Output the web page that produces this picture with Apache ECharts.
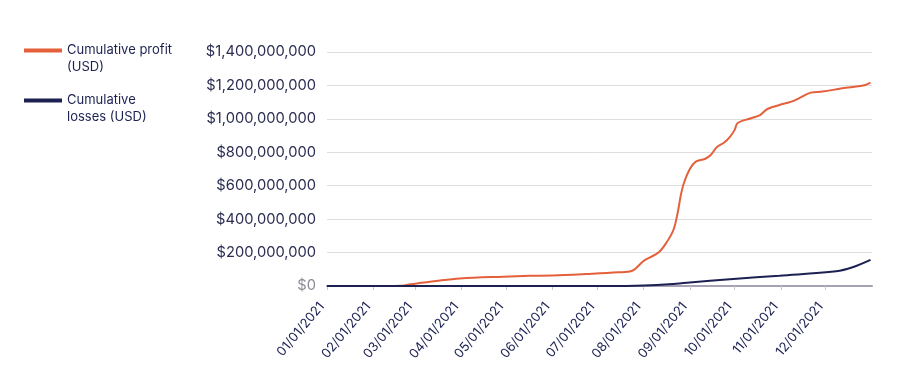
<!DOCTYPE html>
<html>
<head>
<meta charset="utf-8">
<script src="https://cdn.jsdelivr.net/npm/echarts@6/dist/echarts.min.js"></script>
<style>
html,body{margin:0;padding:0;background:#fff;}
#chart{width:897px;height:378px;}
</style>
</head>
<body>
<div id="chart"></div>
<script>
const seriesNames = ['Cumulative profit (USD)', 'Cumulative losses (USD)'];

const profitDates = ['2021-01-01','2021-02-10','2021-02-19','2021-02-24','2021-03-01','2021-03-15','2021-03-31','2021-04-29','2021-05-17','2021-06-01','2021-06-24','2021-07-15','2021-07-24','2021-08-01','2021-08-05','2021-08-11','2021-08-16','2021-08-21','2021-08-24','2021-08-26','2021-08-28','2021-09-01','2021-09-05','2021-09-11','2021-09-15','2021-09-19','2021-09-24','2021-09-28','2021-10-01','2021-10-03','2021-10-12','2021-10-18','2021-10-23','2021-10-31','2021-11-08','2021-11-13','2021-11-21','2021-11-29','2021-12-12','2021-12-26','2021-12-31'];
const profitValues = [0,0,1e6,7e6,14e6,30e6,45e6,56e6,61e6,63e6,72e6,82e6,90e6,150e6,170e6,200e6,255e6,335e6,445e6,545e6,615e6,700e6,744e6,760e6,784e6,830e6,858e6,894e6,934e6,975e6,1004e6,1023e6,1059e6,1083e6,1103e6,1123e6,1157e6,1163e6,1183e6,1199e6,1217e6];

const lossDates = ['2021-01-01','2021-07-10','2021-08-01','2021-08-18','2021-08-30','2021-09-30','2021-10-31','2021-12-08','2021-12-19','2021-12-31'];
const lossValues = [0,0,3e6,10e6,20e6,42e6,62e6,88e6,112e6,156e6];

const yTicks = [0,200e6,400e6,600e6,800e6,1000e6,1200e6,1400e6];

const ORANGE = '#e4603b';
const NAVY = '#1c2152';
const FONT = 'Inter';

const chart = echarts.init(document.getElementById('chart'));
chart.setOption({
  animation: false,
  textStyle: {fontFamily: FONT},
  legend: {
    orient: 'vertical',
    left: 24,
    top: 25,
    padding: 0,
    itemWidth: 38,
    itemHeight: 4,
    itemGap: -1,
    icon: 'rect',
    data: seriesNames,
    formatter: function (n) {
      return n === seriesNames[0] ? '\nCumulative profit\n(USD)' : '\nCumulative\nlosses (USD)';
    },
    textStyle: {fontFamily: FONT, fontSize: 13, color: NAVY, lineHeight: 17}
  },
  grid: {left: 327, right: 25, top: 52, bottom: 92, containLabel: false},
  xAxis: {
    type: 'time',
    min: '2021-01-01',
    max: '2022-01-01',
    splitNumber: 12,
    minInterval: 28 * 86400000,
    maxInterval: 31 * 86400000,
    axisLine: {lineStyle: {color: '#a7a1b4', width: 2}},
    axisTick: {show: true, length: 4, lineStyle: {color: '#c8c8d2'}},
    splitLine: {show: false},
    axisLabel: {
      rotate: 50,
      margin: 12,
      padding: [0, 8, 0, 0],
      fontFamily: FONT,
      fontSize: 13,
      color: NAVY,
      hideOverlap: false,
      formatter: function (v) {
        const d = new Date(v);
        if (d.getFullYear() > 2021) return '';
        return echarts.time.format(v, '{MM}/{dd}/{yyyy}', false);
      }
    }
  },
  yAxis: {
    type: 'value',
    min: yTicks[0],
    max: yTicks[yTicks.length - 1],
    interval: yTicks[1] - yTicks[0],
    axisLine: {show: false},
    axisTick: {show: false},
    splitLine: {lineStyle: {color: '#dddddd', width: 1}},
    axisLabel: {
      margin: 11,
      fontFamily: FONT,
      fontSize: 14.7,
      color: '#2a2c52',
      formatter: function (v) {
        if (v === 0) return '{z|$0}';
        return '$' + v.toLocaleString('en-US');
      },
      rich: {z: {color: '#8a8a96', fontFamily: FONT, fontSize: 14.7}}
    }
  },
  series: [
    {
      name: seriesNames[0],
      type: 'line',
      smooth: 0.35,
      showSymbol: false,
      z: 2,
      itemStyle: {color: ORANGE},
      lineStyle: {color: ORANGE, width: 2},
      data: profitDates.map((d, i) => [d, profitValues[i]])
    },
    {
      name: seriesNames[1],
      type: 'line',
      smooth: 0.35,
      showSymbol: false,
      z: 3,
      itemStyle: {color: NAVY},
      lineStyle: {color: NAVY, width: 2},
      data: lossDates.map((d, i) => [d, lossValues[i]])
    }
  ]
});
</script>
</body>
</html>
